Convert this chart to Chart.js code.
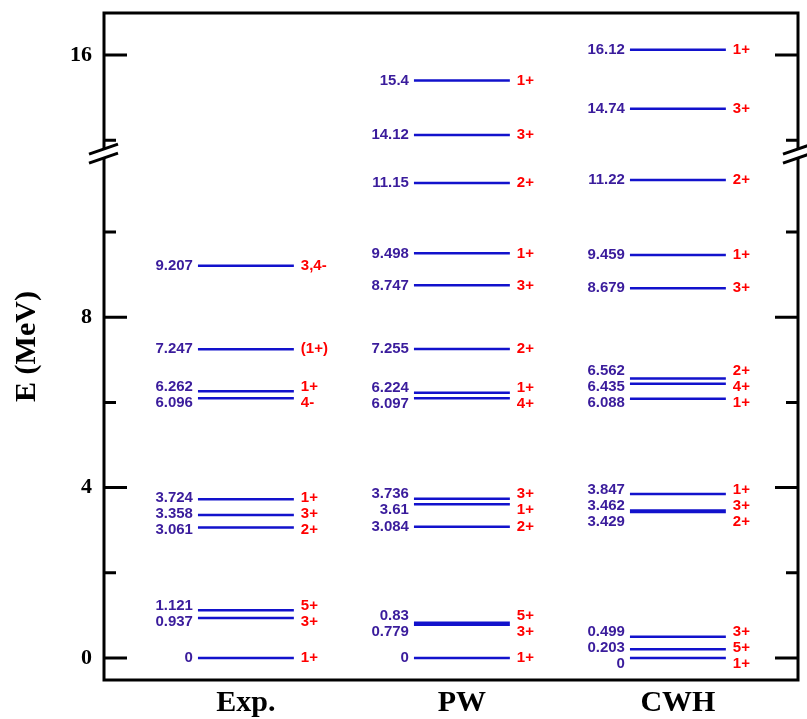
<!DOCTYPE html>
<html>
<head>
<meta charset="UTF-8">
<title>Level scheme</title>
<script src="https://cdn.jsdelivr.net/npm/chart.js"></script>
<style>
  body { margin: 0; background: #fff; }
</style>
</head>
<body>
<canvas id="levels" width="807" height="719"></canvas>
<script>
// level energies (MeV) and spin-parity labels, one pair of arrays per column
const models = ['Exp.', 'PW', 'CWH'];
const expE = [0, 0.937, 1.121, 3.061, 3.358, 3.724, 6.096, 6.262, 7.247, 9.207];
const expJ = ['1+', '3+', '5+', '2+', '3+', '1+', '4-', '1+', '(1+)', '3,4-'];
const pwE  = [0, 0.779, 0.83, 3.084, 3.61, 3.736, 6.097, 6.224, 7.255, 8.747, 9.498, 11.15, 14.12, 15.4];
const pwJ  = ['1+', '3+', '5+', '2+', '1+', '3+', '4+', '1+', '2+', '3+', '1+', '2+', '3+', '1+'];
const cwhE = [0, 0.203, 0.499, 3.429, 3.462, 3.847, 6.088, 6.435, 6.562, 8.679, 9.459, 11.22, 14.74, 16.12];
const cwhJ = ['1+', '5+', '3+', '2+', '3+', '1+', '1+', '4+', '2+', '3+', '1+', '2+', '3+', '1+'];

const yTicks = [0, 4, 8, 16];
const yMinor = [2, 6, 10, 14];

const levelE = [expE, pwE, cwhE];
const levelJ = [expJ, pwJ, cwhJ];

// broken axis: everything above the cut is moved down
const breakAt = 12;
const breakShift = 1.845;
const disp = e => e > breakAt ? e - breakShift : e;

const hw = 0.222;   // half length of a level line, in column units
const blue = '#1212cc';
const numColor = '#3a1c9c';

function segments(k) {
  const pts = [];
  levelE[k].forEach(e => {
    pts.push({x: k + 1 - hw, y: disp(e)});
    pts.push({x: k + 1 + hw, y: disp(e)});
    pts.push({x: k + 1, y: null});
  });
  return pts;
}

// spread label positions so close levels don't overlap
function spread(ys, gap) {
  const p = ys.slice();
  const order = p.map((v, i) => i).sort((a, b) => p[a] - p[b]);
  for (let it = 0; it < 200; it++) {
    let moved = false;
    for (let n = 1; n < order.length; n++) {
      const a = order[n - 1], b = order[n];
      const d = p[b] - p[a];
      if (d < gap - 0.01) {
        const m = (gap - d) / 2;
        p[a] -= m; p[b] += m;
        moved = true;
      }
    }
    if (!moved) break;
  }
  return p;
}

const decor = {
  id: 'decor',
  afterDatasetsDraw(chart) {
    const ctx = chart.ctx, xs = chart.scales.x, ys = chart.scales.y;
    ctx.save();
    ctx.font = 'bold 15px "Liberation Sans", Arial, sans-serif';
    ctx.textBaseline = 'middle';
    levelE.forEach((es, k) => {
      const x0 = xs.getPixelForValue(k + 1 - hw);
      const x1 = xs.getPixelForValue(k + 1 + hw);
      const py = spread(es.map(e => ys.getPixelForValue(disp(e))), 16);
      es.forEach((e, i) => {
        ctx.fillStyle = numColor;
        ctx.textAlign = 'right';
        ctx.fillText(String(e), x0 - 5, py[i]);
        ctx.fillStyle = '#ff0000';
        ctx.textAlign = 'left';
        ctx.fillText(levelJ[k][i], x1 + 7, py[i]);
      });
    });
    ctx.restore();
  },
  afterDraw(chart) {
    const ctx = chart.ctx, a = chart.chartArea, ys = chart.scales.y;
    ctx.save();
    ctx.strokeStyle = '#000';
    ctx.lineWidth = 3;
    ctx.strokeRect(a.left, a.top, a.right - a.left, a.bottom - a.top);
    const tick = (v, len) => {
      const y = ys.getPixelForValue(disp(v));
      ctx.beginPath();
      ctx.moveTo(a.left, y); ctx.lineTo(a.left + len, y);
      ctx.moveTo(a.right, y); ctx.lineTo(a.right - len, y);
      ctx.stroke();
    };
    yTicks.forEach(v => tick(v, 23));
    yMinor.forEach(v => tick(v, 12));
    // break marks on both side axes
    const yb = ys.getPixelForValue(11.85);
    [a.left, a.right].forEach(x => {
      ctx.fillStyle = '#fff';
      ctx.beginPath();
      ctx.moveTo(x - 14, yb + 1); ctx.lineTo(x + 14, yb - 9);
      ctx.lineTo(x + 14, yb - 1); ctx.lineTo(x - 14, yb + 9);
      ctx.closePath();
      ctx.fill();
      ctx.beginPath();
      ctx.moveTo(x - 15, yb + 1); ctx.lineTo(x + 14, yb - 9);
      ctx.moveTo(x - 15, yb + 10); ctx.lineTo(x + 14, yb);
      ctx.stroke();
    });
    ctx.restore();
  }
};

new Chart(document.getElementById('levels'), {
  type: 'line',
  data: {
    datasets: models.map((m, k) => ({
      label: m,
      data: segments(k),
      borderColor: blue,
      borderWidth: 2.5,
      pointRadius: 0,
      spanGaps: false,
      tension: 0
    }))
  },
  options: {
    responsive: false,
    animation: false,
    layout: { padding: { top: 13, right: 9, left: 0, bottom: 0 } },
    plugins: { legend: { display: false }, tooltip: { enabled: false } },
    scales: {
      x: {
        type: 'linear',
        min: 0.343,
        max: 3.556,
        afterBuildTicks: s => { s.ticks = [1, 2, 3].map(v => ({value: v})); },
        afterFit: s => { s.height = 39; s.paddingLeft = 0; s.paddingRight = 0; },
        ticks: {
          callback: v => models[v - 1],
          font: { family: '"Liberation Serif", "Times New Roman", serif', size: 30, weight: 'bold' },
          color: '#000',
          padding: 5,
          maxRotation: 0,
          autoSkip: false
        },
        grid: { display: false, drawTicks: false },
        border: { display: false }
      },
      y: {
        type: 'linear',
        min: -0.516,
        max: 15.14,
        afterBuildTicks: s => { s.ticks = yTicks.map(v => ({value: disp(v)})); },
        afterFit: s => { s.width = 104; s.paddingTop = 0; s.paddingBottom = 0; },
        ticks: {
          callback: (v, i) => String(yTicks[i]),
          font: { family: '"Liberation Serif", "Times New Roman", serif', size: 22, weight: 'bold' },
          color: '#000',
          padding: 12
        },
        title: {
          display: true,
          text: 'E (MeV)',
          font: { family: '"Liberation Serif", "Times New Roman", serif', size: 30, weight: 'bold' },
          color: '#000',
          padding: { top: 9, bottom: 0 }
        },
        grid: { display: false, drawTicks: false },
        border: { display: false }
      }
    }
  },
  plugins: [decor]
});
</script>
</body>
</html>
